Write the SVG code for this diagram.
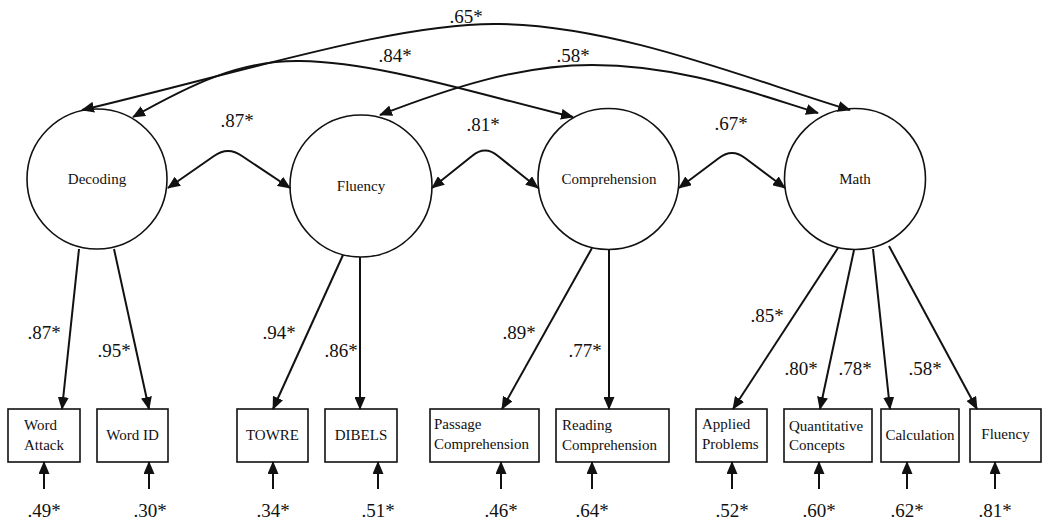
<svg xmlns="http://www.w3.org/2000/svg" width="1050" height="525" viewBox="0 0 1050 525">
<style>
text{font-family:"Liberation Serif","Times New Roman",serif;fill:#111}
.lat{font-size:15px;text-anchor:middle}
.obs{font-size:15px}
.mid{text-anchor:middle}
.num{font-size:19px;text-anchor:middle}
circle,rect{fill:#fff;stroke:#111;stroke-width:1.6}
.c path,.c line{fill:none;stroke:#111;stroke-width:2}
</style>
<defs>
<marker id="ah" markerUnits="userSpaceOnUse" markerWidth="13" markerHeight="11" refX="12" refY="5.5" orient="auto-start-reverse" viewBox="0 0 13 11">
<path d="M0,0 L13,5.5 L0,11 z" fill="#111"/>
</marker>
</defs>
<g id="decoding"><circle cx="97" cy="179" r="70"/><text class="lat" x="97" y="184">Decoding</text></g>
<g id="fluency"><circle cx="361" cy="186" r="71"/><text class="lat" x="361" y="191">Fluency</text></g>
<g id="comprehension"><circle cx="608.5" cy="179" r="70.5"/><text class="lat" x="609" y="184">Comprehension</text></g>
<g id="math"><circle cx="855" cy="179" r="70.5"/><text class="lat" x="855" y="184">Math</text></g>

<g id="word-attack"><rect x="8" y="409" width="72" height="53"/><text class="obs" x="24" y="430">Word</text><text class="obs" x="24" y="450">Attack</text></g>
<g id="word-id"><rect x="97" y="409" width="71" height="53"/><text class="obs mid" x="132.5" y="440">Word ID</text></g>
<g id="towre"><rect x="237" y="409" width="71" height="53"/><text class="obs mid" x="272.5" y="440">TOWRE</text></g>
<g id="dibels"><rect x="325" y="409" width="72" height="53"/><text class="obs mid" x="361" y="440">DIBELS</text></g>
<g id="passage-comprehension"><rect x="430" y="409" width="109" height="53"/><text class="obs" x="434" y="429">Passage</text><text class="obs" x="434" y="449">Comprehension</text></g>
<g id="reading-comprehension"><rect x="556" y="409" width="113" height="53"/><text class="obs" x="562" y="430">Reading</text><text class="obs" x="562" y="450">Comprehension</text></g>
<g id="applied-problems"><rect x="696" y="409" width="71" height="53"/><text class="obs" x="702" y="429">Applied</text><text class="obs" x="702" y="449">Problems</text></g>
<g id="quantitative-concepts"><rect x="784" y="409" width="88" height="53"/><text class="obs" x="789" y="431">Quantitative</text><text class="obs" x="789" y="450">Concepts</text></g>
<g id="calculation"><rect x="881" y="409" width="78" height="53"/><text class="obs mid" x="920" y="440">Calculation</text></g>
<g id="fluency-obs"><rect x="970" y="409" width="71" height="53"/><text class="obs mid" x="1005.5" y="439">Fluency</text></g>

<g id="connectors" class="c">
<!-- long correlations -->
<path d="M82,110 C250,70 400,22 500,24 C620,26 750,80 850,110" marker-start="url(#ah)" marker-end="url(#ah)"/>
<path d="M133,117 C190,85 240,60 300,61 C380,62 480,95 573,117" marker-start="url(#ah)" marker-end="url(#ah)"/>
<path d="M380,115 C450,88 520,65 592,65 C680,65 750,92 818,113" marker-start="url(#ah)" marker-end="url(#ah)"/>
<!-- adjacent correlations -->
<path d="M168,188 L214,156 Q228,146 242,156 L290,188" marker-start="url(#ah)" marker-end="url(#ah)"/>
<path d="M432,188 L472,156 Q485,145 498,156 L538,188" marker-start="url(#ah)" marker-end="url(#ah)"/>
<path d="M679,188 L719,158 Q732,148 745,158 L785,188" marker-start="url(#ah)" marker-end="url(#ah)"/>
<!-- loadings -->
<line x1="79" y1="249" x2="62" y2="409" marker-end="url(#ah)"/>
<line x1="114" y1="249" x2="149" y2="409" marker-end="url(#ah)"/>
<line x1="343" y1="255" x2="273" y2="409" marker-end="url(#ah)"/>
<line x1="360" y1="257" x2="360" y2="409" marker-end="url(#ah)"/>
<line x1="592" y1="248" x2="502" y2="409" marker-end="url(#ah)"/>
<line x1="609" y1="250" x2="609" y2="409" marker-end="url(#ah)"/>
<line x1="838" y1="248" x2="733" y2="409" marker-end="url(#ah)"/>
<line x1="854" y1="250" x2="820" y2="409" marker-end="url(#ah)"/>
<line x1="873" y1="249" x2="890" y2="409" marker-end="url(#ah)"/>
<line x1="889" y1="246" x2="977" y2="409" marker-end="url(#ah)"/>
<!-- errors -->
<line x1="44" y1="489" x2="44" y2="462" marker-end="url(#ah)"/>
<line x1="149" y1="489" x2="149" y2="462" marker-end="url(#ah)"/>
<line x1="273" y1="489" x2="273" y2="462" marker-end="url(#ah)"/>
<line x1="378" y1="489" x2="378" y2="462" marker-end="url(#ah)"/>
<line x1="501" y1="489" x2="501" y2="462" marker-end="url(#ah)"/>
<line x1="592" y1="489" x2="592" y2="462" marker-end="url(#ah)"/>
<line x1="732" y1="489" x2="732" y2="462" marker-end="url(#ah)"/>
<line x1="819" y1="489" x2="819" y2="462" marker-end="url(#ah)"/>
<line x1="907" y1="489" x2="907" y2="462" marker-end="url(#ah)"/>
<line x1="995" y1="489" x2="995" y2="462" marker-end="url(#ah)"/>
</g>

<g id="labels">
<text class="num" x="466" y="23">.65*</text>
<text class="num" x="395" y="62">.84*</text>
<text class="num" x="573" y="62">.58*</text>
<text class="num" x="237" y="127">.87*</text>
<text class="num" x="483" y="131">.81*</text>
<text class="num" x="731" y="130">.67*</text>
<text class="num" x="44" y="339">.87*</text>
<text class="num" x="114" y="357">.95*</text>
<text class="num" x="279" y="339">.94*</text>
<text class="num" x="341" y="357">.86*</text>
<text class="num" x="519" y="339">.89*</text>
<text class="num" x="585" y="357">.77*</text>
<text class="num" x="767" y="322">.85*</text>
<text class="num" x="801" y="375">.80*</text>
<text class="num" x="855" y="375">.78*</text>
<text class="num" x="925" y="375">.58*</text>
<text class="num" x="44" y="517">.49*</text>
<text class="num" x="150" y="517">.30*</text>
<text class="num" x="273" y="517">.34*</text>
<text class="num" x="378" y="517">.51*</text>
<text class="num" x="501" y="517">.46*</text>
<text class="num" x="592" y="517">.64*</text>
<text class="num" x="732" y="517">.52*</text>
<text class="num" x="819" y="517">.60*</text>
<text class="num" x="907" y="517">.62*</text>
<text class="num" x="995" y="517">.81*</text>
</g>
</svg>
